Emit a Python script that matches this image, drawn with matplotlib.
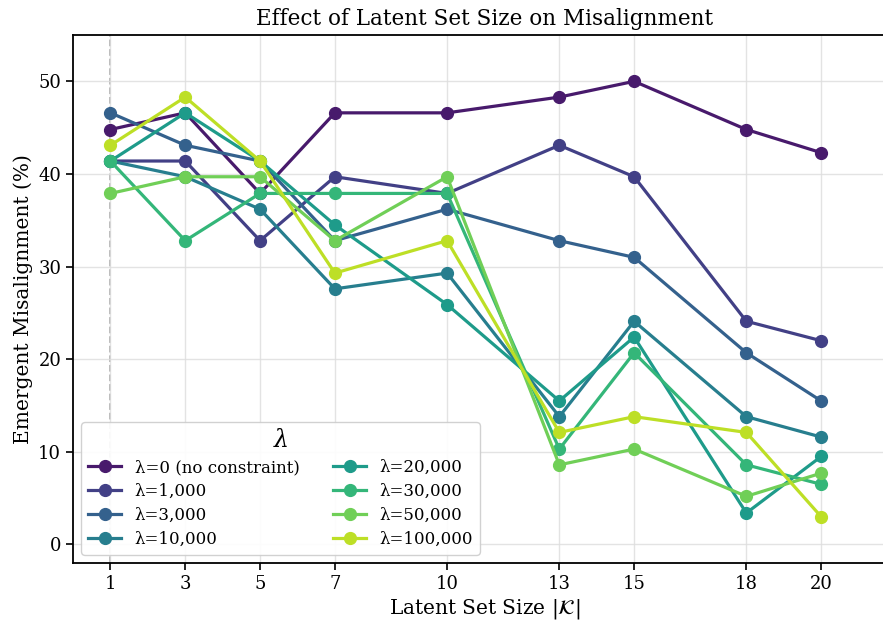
import numpy as np
import matplotlib
matplotlib.use("Agg")
import matplotlib.pyplot as plt

plt.rcParams['font.family'] = 'DejaVu Serif'
plt.rcParams['mathtext.fontset'] = 'dejavuserif'

# latent set sizes |K| and misalignment (%) per lambda
set_sizes = [1, 3, 5, 7, 10, 13, 15, 18, 20]
lambda_labels = ['λ=0 (no constraint)', 'λ=1,000', 'λ=3,000', 'λ=10,000',
                 'λ=20,000', 'λ=30,000', 'λ=50,000', 'λ=100,000']

mis_0 = [44.8, 46.6, 37.9, 46.6, 46.6, 48.3, 50.0, 44.8, 42.3]
mis_1k = [41.4, 41.4, 32.8, 39.7, 37.9, 43.1, 39.7, 24.1, 22.0]
mis_3k = [46.6, 43.1, 41.4, 32.8, 36.2, 32.8, 31.0, 20.7, 15.5]
mis_10k = [41.4, 39.7, 36.2, 27.6, 29.3, 13.8, 24.1, 13.8, 11.6]
mis_20k = [41.4, 46.6, 41.4, 34.5, 25.9, 15.5, 22.4, 3.4, 9.5]
mis_30k = [41.4, 32.8, 37.9, 37.9, 37.9, 10.3, 20.7, 8.6, 6.5]
mis_50k = [37.9, 39.7, 39.7, 32.8, 39.7, 8.6, 10.3, 5.2, 7.7]
mis_100k = [43.1, 48.3, 41.4, 29.3, 32.8, 12.1, 13.8, 12.1, 3.0]

series = [mis_0, mis_1k, mis_3k, mis_10k, mis_20k, mis_30k, mis_50k, mis_100k]
colors = plt.cm.viridis(np.linspace(0.07, 0.9, len(series)))

fig = plt.figure(figsize=(8.83, 6.2), dpi=100)
ax = fig.add_axes([0.0827, 0.0919, 0.932, 0.8516])

# reference line at |K| = 1
ax.axvline(1, color='gray', linestyle='--', linewidth=1.3, alpha=0.6, zorder=1)

for vals, lab, c in zip(series, lambda_labels, colors):
    ax.plot(set_sizes, vals, marker='o', markersize=8.5, linewidth=2.3,
            color=c, label=lab, zorder=3)

ax.set_xlim(0, 22)
ax.set_ylim(-2, 55)
ax.set_xticks(set_sizes)
ax.set_yticks([0, 10, 20, 30, 40, 50])
ax.tick_params(labelsize=13, length=5, width=1.2)
ax.grid(True, color='#dddddd', linewidth=1, alpha=0.8, zorder=0)
ax.spines['right'].set_visible(False)
for s in ['left', 'bottom', 'top']:
    ax.spines[s].set_linewidth(1.3)

ax.set_xlabel(r'Latent Set Size $|\mathcal{K}|$', fontsize=14.5, labelpad=3)
ax.set_ylabel('Emergent Misalignment (%)', fontsize=14.5)
ax.set_title('Effect of Latent Set Size on Misalignment', fontsize=15.5, pad=7)

leg = ax.legend(title=r'$\lambda$', ncol=2, loc='lower left', fontsize=12,
                title_fontsize=17, frameon=True, columnspacing=2.0,
                handlelength=2.0, labelspacing=0.42, borderaxespad=0.5)
leg.get_frame().set_alpha(0.9)

fig.savefig('out.png', dpi=100)
